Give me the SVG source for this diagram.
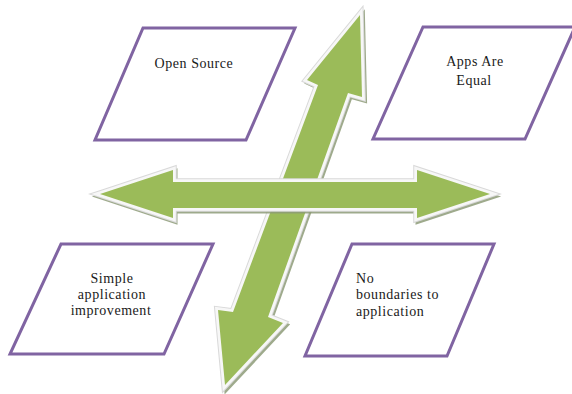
<svg xmlns="http://www.w3.org/2000/svg" width="572" height="394" viewBox="0 0 572 394">
<style>
.box{fill:#ffffff;stroke:#8064A2;stroke-width:3;stroke-linejoin:miter}
.t{font-family:"Liberation Serif","Times New Roman",serif;font-size:14px;fill:#1a1a1a;letter-spacing:0.55px}
.c{text-anchor:middle}
.sh{fill:#8e9c78;stroke:#8e9c78;stroke-width:6;stroke-linejoin:miter;opacity:0.85}
.ol{fill:#d9d9d9;stroke:#d9d9d9;stroke-width:7.5;stroke-linejoin:miter}
.wh{fill:#f7f7f7;stroke:#f7f7f7;stroke-width:5.5;stroke-linejoin:miter}
.gr{fill:#9BBB59}
</style>
<defs>
<polygon id="va" points="360,15 362,97 348,93 268,317 283,323 225,385 218,310 233,312 318,85 307,80"/>
<polygon id="ha" points="100,194 173,170 173,182 417,182 417,170 490,194 417,218 417,208 173,208 173,218"/>
</defs>
<rect width="572" height="394" fill="#ffffff"/>
<g id="node-open-source">
<polygon class="box" points="143,28 295,28 246,140 95,140"/>
<text class="t c" x="194" y="68">Open Source</text>
</g>
<g id="node-apps-are-equal">
<polygon class="box" points="423,27 575,27 525,139 373,139"/>
<text class="t c" x="475" y="66">Apps Are</text>
<text class="t c" x="474" y="85">Equal</text>
</g>
<g id="node-simple-application">
<polygon class="box" points="61,244 213,244 164,354 10,354"/>
<text class="t c" x="112" y="283">Simple</text>
<text class="t c" x="112" y="299">application</text>
<text class="t c" x="111" y="315">improvement</text>
</g>
<g id="node-no-boundaries">
<polygon class="box" points="352,244 494,244 447,356 305,356"/>
<text class="t" x="356" y="283">No</text>
<text class="t" x="356" y="299">boundaries to</text>
<text class="t" x="356" y="316">application</text>
</g>
<g id="connectors">
<g id="arrow-vertical">
<use href="#va" class="sh" transform="translate(2,2.5)"/>
<use href="#va" class="ol"/>
<use href="#va" class="wh"/>
<use href="#va" class="gr"/>
</g>
<g id="arrow-horizontal">
<use href="#ha" class="sh" transform="translate(1.5,2.5)"/>
<use href="#ha" class="ol"/>
<use href="#ha" class="wh"/>
<use href="#ha" class="gr"/>
</g>
</g>
</svg>
